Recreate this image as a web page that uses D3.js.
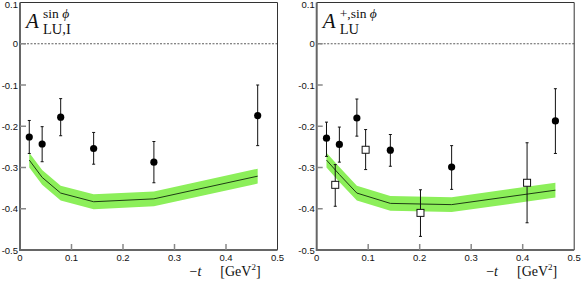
<!DOCTYPE html>
<html>
<head>
<meta charset="utf-8">
<script src="https://cdn.jsdelivr.net/npm/d3@7"></script>
<style>
  body { margin: 0; background: #fff; }
  svg { display: block; }
  .tick-label { font-family: "Liberation Sans", Arial, sans-serif; font-size: 9.5px; fill: #111; }
  .math { font-family: "Liberation Serif", "DejaVu Serif", serif; fill: #111; }
</style>
</head>
<body>
<div id="chart"></div>
<script>
// x-axis / y-axis ticks
const xTicks = [0, 0.1, 0.2, 0.3, 0.4, 0.5];
const yTicks = [0.1, 0, -0.1, -0.2, -0.3, -0.4, -0.5];
const xTickLabels = ['0', '0.1', '0.2', '0.3', '0.4', '0.5'];
const yTickLabels = ['0.1', '0', '-0.1', '-0.2', '-0.3', '-0.4', '-0.5'];

// left panel: A_LU,I  (filled circles)
const leftT    = [0.018, 0.043, 0.079, 0.143, 0.260, 0.4615];
const leftVal  = [-0.226, -0.243, -0.178, -0.254, -0.287, -0.174];
const leftLo   = [-0.266, -0.286, -0.223, -0.292, -0.337, -0.247];
const leftHi   = [-0.186, -0.201, -0.133, -0.215, -0.237, -0.100];
const leftCurveT = [0.018, 0.043, 0.079, 0.143, 0.260, 0.4615];
const leftCurve  = [-0.282, -0.324, -0.362, -0.383, -0.376, -0.321];

// right panel: A_LU^+ (filled circles + open squares)
const rightT    = [0.019, 0.044, 0.078, 0.143, 0.262, 0.4635];
const rightVal  = [-0.229, -0.244, -0.180, -0.258, -0.299, -0.187];
const rightLo   = [-0.273, -0.287, -0.224, -0.297, -0.353, -0.266];
const rightHi   = [-0.190, -0.202, -0.134, -0.220, -0.247, -0.109];
const squareT   = [0.036, 0.095, 0.2015, 0.4085];
const squareVal = [-0.342, -0.257, -0.410, -0.337];
const squareLo  = [-0.394, -0.305, -0.467, -0.434];
const squareHi  = [-0.293, -0.208, -0.354, -0.240];
const rightCurveT = [0.019, 0.044, 0.078, 0.143, 0.262, 0.4635];
const rightCurve  = [-0.282, -0.317, -0.362, -0.387, -0.390, -0.355];

const bandHalf = 0.018;

const svg = d3.select('#chart').append('svg')
  .attr('width', 581)
  .attr('height', 281);

function zip(t, v, lo, hi) {
  return t.map((d, i) => ({ t: d, v: v[i], lo: lo ? lo[i] : null, hi: hi ? hi[i] : null }));
}

function drawPanel(left, opts) {
  const x = d3.scaleLinear().domain([0, 0.5]).range([left, left + 257.5]);
  const y = d3.scaleLinear().domain([-0.5, 0.1]).range([250, 2.5]);
  const g = svg.append('g');

  // band + curve
  const curve = opts.curveT.map((t, i) => ({ t, v: opts.curve[i] }));
  g.append('path')
    .datum(curve)
    .attr('fill', '#8cef5a')
    .attr('d', d3.area().x(d => x(d.t)).y0(d => y(d.v - bandHalf)).y1(d => y(d.v + bandHalf)));
  g.append('path')
    .datum(curve)
    .attr('fill', 'none')
    .attr('stroke', '#1e3d14')
    .attr('stroke-width', 1)
    .attr('d', d3.line().x(d => x(d.t)).y(d => y(d.v)));

  // zero line
  g.append('line')
    .attr('x1', x(0)).attr('x2', x(0.5))
    .attr('y1', y(0)).attr('y2', y(0))
    .attr('stroke', '#333')
    .attr('stroke-width', 0.8)
    .attr('stroke-dasharray', '2,1.5');

  // frame: thin top/right, thick grey left/bottom
  g.append('path')
    .attr('d', `M${x(0)},${y(0.1)}H${x(0.5)}V${y(-0.5)}`)
    .attr('fill', 'none')
    .attr('stroke', '#333')
    .attr('stroke-width', 1);
  g.append('path')
    .attr('d', `M${x(0)},${y(0.1)}V${y(-0.5)}H${x(0.5)}`)
    .attr('fill', 'none')
    .attr('stroke', '#666')
    .attr('stroke-width', 2);

  // ticks
  g.selectAll('.yt').data(yTicks.slice(1, -1)).enter().append('line')
    .attr('x1', x(0)).attr('x2', x(0) + 6)
    .attr('y1', d => y(d)).attr('y2', d => y(d))
    .attr('stroke', '#888').attr('stroke-width', 1.5);
  g.selectAll('.xt').data(xTicks.slice(1, -1)).enter().append('line')
    .attr('x1', d => x(d)).attr('x2', d => x(d))
    .attr('y1', y(-0.5)).attr('y2', y(-0.5) - 6)
    .attr('stroke', '#888').attr('stroke-width', 1.5);

  // tick labels
  g.selectAll('.yl').data(yTicks).enter().append('text')
    .attr('class', 'tick-label')
    .attr('x', x(0) - 2)
    .attr('y', d => Math.max(y(d) + 3.5, 7.5))
    .attr('text-anchor', 'end')
    .text((d, i) => yTickLabels[i]);
  g.selectAll('.xl').data(xTicks).enter().append('text')
    .attr('class', 'tick-label')
    .attr('x', d => x(d))
    .attr('y', 261)
    .attr('text-anchor', 'middle')
    .text((d, i) => xTickLabels[i]);

  // error bars + markers
  function errBars(pts) {
    g.selectAll(null).data(pts).enter().append('line')
      .attr('x1', d => x(d.t)).attr('x2', d => x(d.t))
      .attr('y1', d => y(d.lo)).attr('y2', d => y(d.hi))
      .attr('stroke', '#111').attr('stroke-width', 1);
    [ 'lo', 'hi' ].forEach(k => {
      g.selectAll(null).data(pts).enter().append('line')
        .attr('x1', d => x(d.t) - 1.5).attr('x2', d => x(d.t) + 1.5)
        .attr('y1', d => y(d[k])).attr('y2', d => y(d[k]))
        .attr('stroke', '#111').attr('stroke-width', 1);
    });
  }
  const circles = zip(opts.t, opts.v, opts.lo, opts.hi);
  errBars(circles);
  g.selectAll(null).data(circles).enter().append('circle')
    .attr('cx', d => x(d.t)).attr('cy', d => y(d.v))
    .attr('r', 3.6).attr('fill', '#000');

  if (opts.sqT) {
    const squares = zip(opts.sqT, opts.sqV, opts.sqLo, opts.sqHi);
    errBars(squares);
    g.selectAll(null).data(squares).enter().append('rect')
      .attr('x', d => x(d.t) - 3.5).attr('y', d => y(d.v) - 3.5)
      .attr('width', 7).attr('height', 7)
      .attr('fill', '#fff').attr('stroke', '#111').attr('stroke-width', 1);
  }

  // panel title  A^{sup}_{sub}
  g.append('text').attr('class', 'math')
    .attr('x', x(0) + 6).attr('y', 28)
    .attr('font-style', 'italic').attr('font-size', 21)
    .text('A');
  const sup = g.append('text').attr('class', 'math')
    .attr('x', x(0) + 23).attr('y', 18).attr('font-size', 13.5);
  opts.sup.forEach(s => {
    sup.append('tspan').attr('font-style', s.italic ? 'italic' : 'normal').text(s.text);
  });
  g.append('text').attr('class', 'math')
    .attr('x', x(0) + 23).attr('y', 33.5).attr('font-size', 14.5)
    .text(opts.sub);

  // x axis label
  const xl = g.append('text').attr('class', 'math')
    .attr('x', x(0.5) - 88).attr('y', 276).attr('font-size', 14);
  xl.append('tspan').text('\u2212');
  xl.append('tspan').attr('font-style', 'italic').text('t');
  xl.append('tspan').attr('dx', 19).text('[GeV');
  xl.append('tspan').attr('dy', -6).attr('font-size', 9).text('2');
  xl.append('tspan').attr('dy', 6).text(']');
}

drawPanel(20, {
  t: leftT, v: leftVal, lo: leftLo, hi: leftHi,
  curveT: leftCurveT, curve: leftCurve,
  sup: [{ text: 'sin ' }, { text: '\u03d5', italic: true }],
  sub: 'LU,I'
});

drawPanel(316.7, {
  t: rightT, v: rightVal, lo: rightLo, hi: rightHi,
  sqT: squareT, sqV: squareVal, sqLo: squareLo, sqHi: squareHi,
  curveT: rightCurveT, curve: rightCurve,
  sup: [{ text: '+,sin ' }, { text: '\u03d5', italic: true }],
  sub: 'LU'
});
</script>
</body>
</html>
